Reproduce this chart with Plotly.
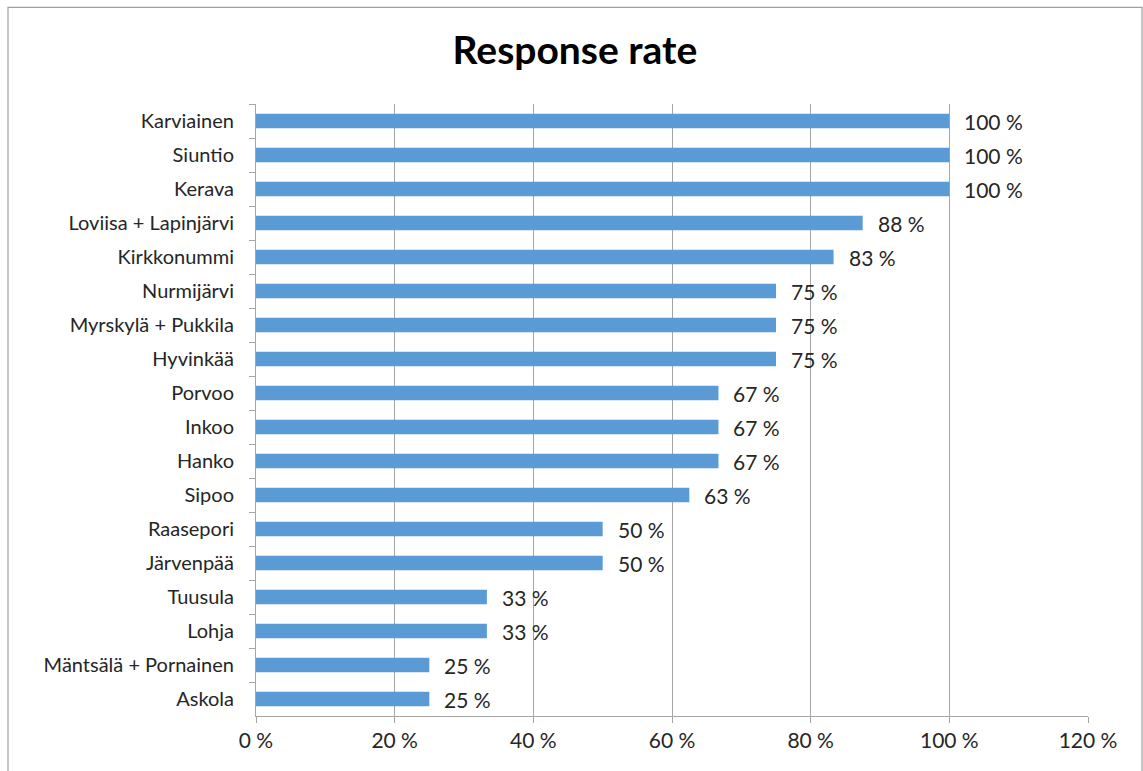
import plotly.graph_objects as go

# Response rate per municipality (share of answers received)
municipalities = [
    "Karviainen", "Siuntio", "Kerava", "Loviisa + Lapinjärvi", "Kirkkonummi",
    "Nurmijärvi", "Myrskylä + Pukkila", "Hyvinkää", "Porvoo", "Inkoo", "Hanko",
    "Sipoo", "Raasepori", "Järvenpää", "Tuusula", "Lohja",
    "Mäntsälä + Pornainen", "Askola",
]
response_rate = [
    1.0, 1.0, 1.0, 0.875, 0.833,
    0.75, 0.75, 0.75, 0.667, 0.667, 0.667,
    0.625, 0.5, 0.5, 0.333, 0.333,
    0.25, 0.25,
]
x_tick_values = [0, 0.2, 0.4, 0.6, 0.8, 1.0, 1.2]
x_tick_labels = ["0 %", "20 %", "40 %", "60 %", "80 %", "100 %", "120 %"]

FONT = "Lato, Carlito, Calibri, sans-serif"
TEXT_COLOR = "#262626"
GRID = "#a6a6a6"
BAR = "#5b9bd5"
LABEL_SIZE = 21

fig = go.Figure()
fig.add_trace(go.Bar(
    x=response_rate,
    y=municipalities,
    orientation="h",
    marker=dict(color=BAR, line=dict(width=0)),
    hoverinfo="x+y",
))

# value labels to the right of each bar (rounded half up)
for name, v in zip(municipalities, response_rate):
    fig.add_annotation(
        x=v, y=name, xref="x", yref="y",
        text=f"{int(v * 100 + 0.5)} %",
        showarrow=False, xanchor="left", xshift=13,
        font=dict(family=FONT, size=LABEL_SIZE, color=TEXT_COLOR),
    )

# chart border
fig.add_shape(
    type="rect", xref="paper", yref="paper",
    x0=-248 / 832, x1=886 / 832, y0=-60 / 612, y1=711 / 612 - 0.004,
    line=dict(color="#a0a0a0", width=1.2), layer="below",
)

fig.update_layout(
    width=1143, height=771,
    margin=dict(l=256, r=55, t=104, b=55),
    paper_bgcolor="white", plot_bgcolor="white",
    bargap=0.58,
    showlegend=False,
    font=dict(family=FONT, size=LABEL_SIZE, color=TEXT_COLOR),
    title=dict(
        text="<b>Response rate</b>",
        x=0.503, xanchor="center", y=0.935, yanchor="middle",
        font=dict(family=FONT, size=39, color="#000000"),
    ),
    xaxis=dict(
        range=[0, 1.2],
        tickvals=x_tick_values, ticktext=x_tick_labels,
        showgrid=True, gridcolor=GRID, gridwidth=1,
        showline=True, linecolor=GRID, linewidth=1,
        ticks="outside", ticklen=6, tickcolor=GRID,
        zeroline=False,
        tickfont=dict(family=FONT, size=LABEL_SIZE, color=TEXT_COLOR),
        fixedrange=True,
    ),
    yaxis=dict(
        categoryorder="array", categoryarray=municipalities,
        autorange="reversed",
        showline=True, linecolor=GRID, linewidth=1,
        ticks="outside", ticklen=6, tickcolor=GRID, tickson="boundaries",
        showgrid=False,
        ticklabelstandoff=17,
        tickfont=dict(family=FONT, size=20, color=TEXT_COLOR),
        fixedrange=True,
    ),
)

fig.write_html("out.html")
